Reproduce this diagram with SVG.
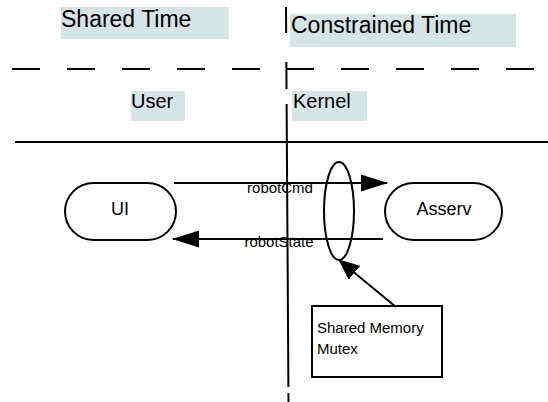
<svg xmlns="http://www.w3.org/2000/svg" width="548" height="402" viewBox="0 0 548 402">
<style>
  .bg { fill: #d6e5e4; }
  .t { font-family: "Liberation Sans", Arial, sans-serif; fill: #000; }
  .ln { stroke: #000; stroke-width: 2; fill: none; }
  .node { fill: #fff; stroke: #000; stroke-width: 2; }
</style>
<defs>
  <marker id="ah" markerUnits="userSpaceOnUse" viewBox="0 0 27 17" refX="26" refY="8.5" markerWidth="27" markerHeight="17" orient="auto">
    <path d="M0,0 L27,8.5 L0,17 z" fill="#000"/>
  </marker>
  <marker id="ah2" markerUnits="userSpaceOnUse" viewBox="0 0 21 18" refX="20" refY="9" markerWidth="21" markerHeight="18" orient="auto">
    <path d="M0,0 L21,9 L0,18 z" fill="#000"/>
  </marker>
</defs>
<rect width="548" height="402" fill="#fff"/>

<g id="label-shared-time">
  <rect class="bg" x="61" y="7" width="168" height="32"/>
  <text class="t" x="61" y="27" font-size="23">Shared Time</text>
</g>
<g id="label-constrained-time">
  <rect class="bg" x="290" y="14" width="226" height="33"/>
  <text class="t" x="291" y="33" font-size="23">Constrained Time</text>
</g>
<g id="label-user">
  <rect class="bg" x="131" y="91" width="54" height="30"/>
  <text class="t" x="131" y="108" font-size="20">User</text>
</g>
<g id="label-kernel">
  <rect class="bg" x="292" y="91" width="75" height="30"/>
  <text class="t" x="293" y="108" font-size="20">Kernel</text>
</g>

<g id="dividers">
  <line class="ln" x1="12" y1="69" x2="260" y2="69" stroke-dasharray="28 27"/>
  <line class="ln" x1="286" y1="69" x2="536" y2="69" stroke-dasharray="28 27"/>
  <line class="ln" x1="15" y1="142" x2="548" y2="142"/>
  <line class="ln" x1="286" y1="7" x2="288.5" y2="402" stroke-width="2.4" stroke-dasharray="26 29 27 15 283 6 30 0"/>
</g>

<g id="node-ui">
  <rect class="node" x="65" y="183" width="111" height="57" rx="28.5" ry="28.5"/>
  <text class="t" x="120" y="214.5" font-size="18" text-anchor="middle">UI</text>
</g>
<g id="node-asserv">
  <rect class="node" x="385" y="183" width="117" height="57" rx="28.5" ry="28.5"/>
  <text class="t" x="444" y="214.5" font-size="18" text-anchor="middle">Asserv</text>
</g>
<g id="node-shared-mem-ellipse">
  <ellipse class="ln" cx="339" cy="211" rx="15" ry="49"/>
</g>
<g id="node-shared-memory-mutex">
  <rect class="node" x="312" y="306" width="130" height="71"/>
  <text class="t" x="317" y="333" font-size="15">Shared Memory</text>
  <text class="t" x="317" y="354" font-size="15">Mutex</text>
</g>

<g id="connectors">
  <line class="ln" x1="174" y1="183" x2="387" y2="183" marker-end="url(#ah)"/>
  <line class="ln" x1="383" y1="239" x2="173" y2="239" marker-end="url(#ah)"/>
  <line class="ln" x1="396" y1="307" x2="339" y2="260" marker-end="url(#ah2)"/>
  <text class="t" x="280" y="193" font-size="15" text-anchor="middle">robotCmd</text>
  <text class="t" x="279" y="247" font-size="15" text-anchor="middle">robotState</text>
</g>
</svg>
